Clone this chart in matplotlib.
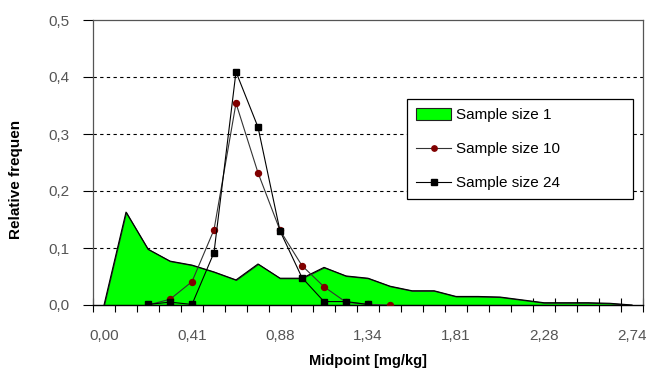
import matplotlib
matplotlib.use("Agg")
import matplotlib.pyplot as plt
import numpy as np

plt.rcParams['font.family'] = ['Liberation Sans', 'DejaVu Sans']

#############################################################
#   DATA (category axis)
#############################################################

categories = np.arange(25)
tickPositions = [0, 4, 8, 12, 16, 20, 24]
tickLabels = ["0,00", "0,41", "0,88", "1,34", "1,81", "2,28", "2,74"]

size1 = [0.0, 0.163, 0.098, 0.077, 0.070, 0.058, 0.044, 0.072, 0.047, 0.047,
         0.066, 0.051, 0.047, 0.033, 0.025, 0.025, 0.015, 0.015, 0.014, 0.009,
         0.004, 0.004, 0.004, 0.003, 0.0]

cat10 = categories[2:14]
size10 = [0.0, 0.010, 0.041, 0.132, 0.354, 0.232, 0.131, 0.069, 0.032, 0.005, 0.001, 0.0]

cat24 = categories[2:13]
size24 = [0.001, 0.005, 0.001, 0.092, 0.409, 0.312, 0.130, 0.048, 0.006, 0.006, 0.001]

yTicks = [0.0, 0.1, 0.2, 0.3, 0.4, 0.5]
yLabels = ["0,0", "0,1", "0,2", "0,3", "0,4", "0,5"]

#############################################################
#   PLOT
#############################################################

fig = plt.figure(figsize=(6.51, 3.69), dpi=100)
ax = fig.add_axes([93/651, 64/369, 550/651, 285/369])

ax.fill_between(categories, size1, 0, color="#00FF00", edgecolor="#222222", linewidth=0.8,
                zorder=2, label="Sample size 1")
ax.plot(categories, size1, color="black", linewidth=0.8, zorder=3)

ax.plot(cat10, size10, color="#333333", linewidth=0.8, marker="o", markersize=4.3,
        markerfacecolor="#800000", markeredgecolor="#800000", zorder=4, label="Sample size 10")
ax.plot(cat24, size24, color="black", linewidth=0.8, marker="s", markersize=4.3,
        markerfacecolor="black", markeredgecolor="black", zorder=5, label="Sample size 24")

ax.set_xlim(-0.5, 24.5)
ax.set_ylim(0, 0.5)

# grid lines
for y in yTicks[1:-1]:
    ax.axhline(y, color="black", linewidth=0.8, linestyle=(0, (3, 3)), zorder=1)

ax.set_yticks(yTicks)
ax.set_yticklabels(yLabels)
ax.tick_params(axis="y", direction="out", length=7, width=0.8, color="black",
               labelsize=11, labelcolor="#555555", pad=10)

ax.set_xticks(tickPositions)
ax.set_xticklabels(tickLabels)
ax.set_xticks(np.arange(-0.5, 25, 1), minor=True)
ax.tick_params(axis="x", which="major", length=0, labelsize=11, labelcolor="#555555", pad=17)
ax.tick_params(axis="x", which="minor", direction="inout", length=10, width=0.8, color="black")

for s in ["top", "right", "left"]:
    ax.spines[s].set_color("#555555")
    ax.spines[s].set_linewidth(0.9)
ax.spines["bottom"].set_color("black")
ax.spines["bottom"].set_linewidth(1.0)

ax.set_xlabel("Midpoint [mg/kg]", fontsize=10.5, fontweight="bold", labelpad=8)
ax.set_ylabel("Relative frequen", fontsize=11, fontweight="bold")
ax.yaxis.set_label_coords(-0.127, 0.44)

leg = ax.legend(loc="upper left", bbox_to_anchor=(0.571, 0.368, 0.411, 0.355), mode="expand",
                frameon=True, fancybox=False, edgecolor="black", framealpha=1,
                fontsize=11, labelspacing=1.3, handlelength=2.3, handleheight=0.8,
                handletextpad=0.3, borderpad=0.6, borderaxespad=0, markerscale=0.9)
leg.get_frame().set_linewidth(0.9)

plt.savefig("out.png", dpi=100)
